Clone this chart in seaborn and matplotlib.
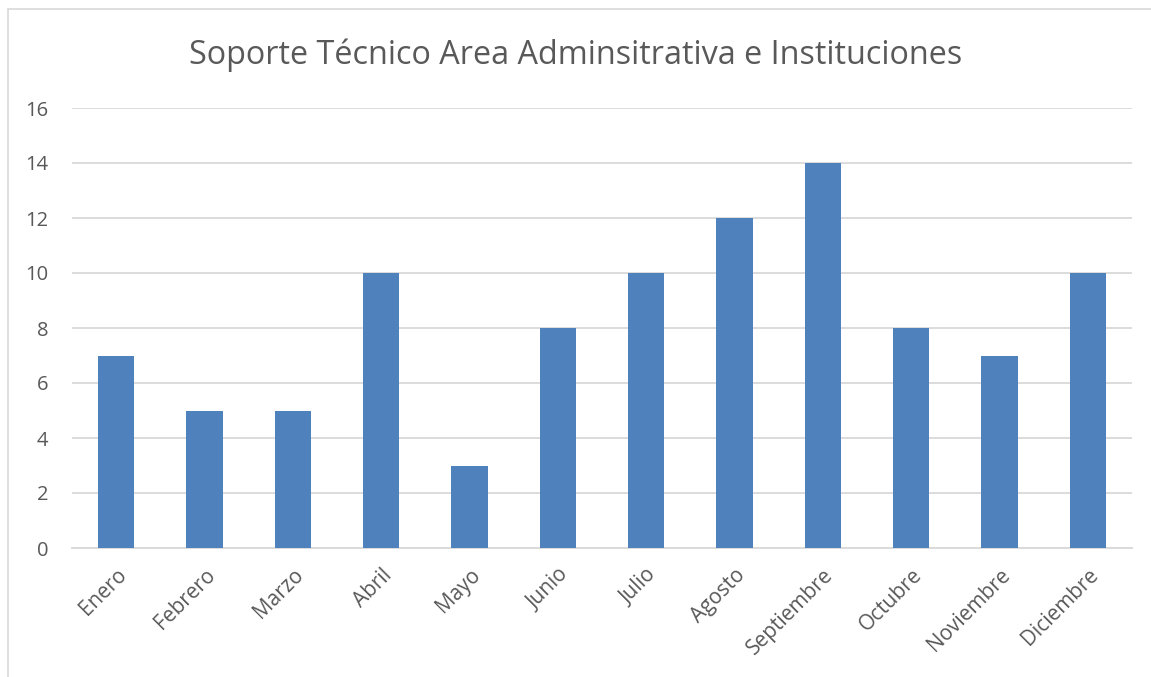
import matplotlib

matplotlib.use("agg")
import matplotlib.pyplot as plt
import pandas as pd
import seaborn as sns
from matplotlib.patches import Rectangle

MONTHS = ["Enero", "Febrero", "Marzo", "Abril", "Mayo", "Junio", "Julio",
          "Agosto", "Septiembre", "Octubre", "Noviembre", "Diciembre"]
COUNTS = [7, 5, 5, 10, 3, 8, 10, 12, 14, 8, 7, 10]
Y_TICKS = [0, 2, 4, 6, 8, 10, 12, 14, 16]
TITLE = "Soporte Técnico Area Adminsitrativa e Instituciones"

TEXT = "#595959"
GRID = "#d9d9d9"
BAR = "#4f81bd"


def main():
    sns.set_theme(style="white")
    plt.rcParams["font.family"] = ["Open Sans", "DejaVu Sans"]

    df = pd.DataFrame({"mes": MONTHS, "n": COUNTS})

    fig = plt.figure(figsize=(11.51, 6.77), dpi=100)
    ax = fig.add_axes([72 / 1151, 1 - 548 / 677, (1132 - 72) / 1151, (548 - 108) / 677])
    sns.barplot(data=df, x="mes", y="n", color=BAR, saturation=1, width=0.41,
                linewidth=0, ax=ax, zorder=3)

    ax.set_ylim(0, 16)
    ax.set_xlim(-0.5, len(MONTHS) - 0.5)
    ax.set_yticks(Y_TICKS)
    ax.yaxis.grid(True, color=GRID, linewidth=1.3, zorder=0)
    ax.set_axisbelow(True)
    for side in ["top", "right", "left"]:
        ax.spines[side].set_visible(False)
    ax.spines["bottom"].set_color(GRID)
    ax.spines["bottom"].set_linewidth(1.3)
    ax.tick_params(axis="y", length=0, colors=TEXT, labelsize=14.5, pad=17)
    ax.set_xticks(range(len(MONTHS)))
    ax.set_xticklabels(MONTHS, rotation=45, ha="right", rotation_mode="anchor")
    ax.tick_params(axis="x", length=0, colors=TEXT, labelsize=15, pad=12)
    ax.set_xlabel("")
    ax.set_ylabel("")

    fig.text(0.5, 1 - 55 / 677, TITLE, ha="center", va="center", fontsize=23.3, color=TEXT)

    fig.patches.append(Rectangle((8 / 1151, -0.05), 1.2, 1 - 9 / 677 + 0.05,
                                 transform=fig.transFigure, fill=False,
                                 edgecolor=GRID, linewidth=1.2, figure=fig))

    fig.savefig("out.png", dpi=100, facecolor="white")
    plt.close(fig)


if __name__ == "__main__":
    main()
